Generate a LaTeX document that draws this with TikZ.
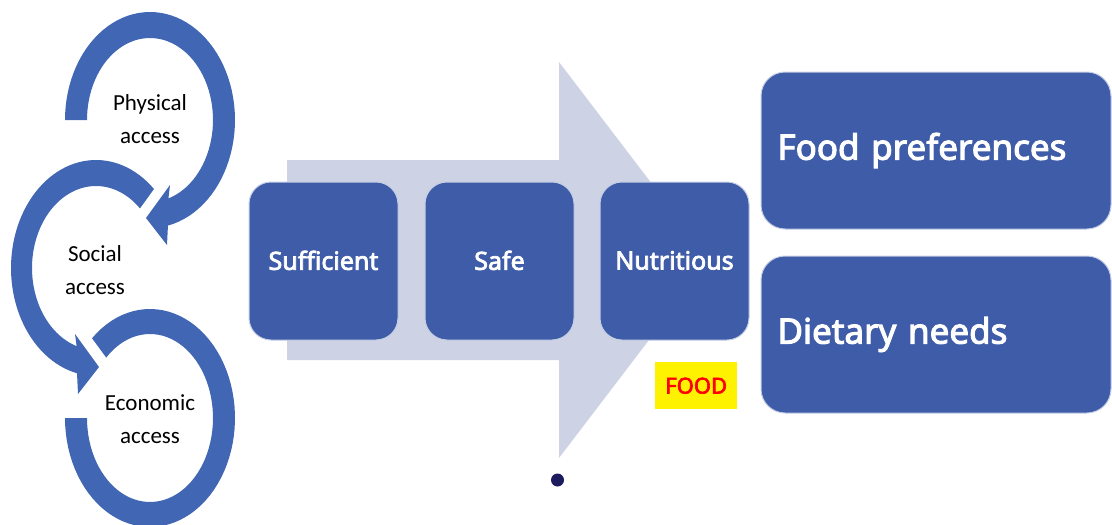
\documentclass[tikz,border=0pt]{standalone}
\usepackage{fontspec}
\setmainfont{Carlito}
\newfontfamily\boxfont{Noto Sans}[FakeBold=3]
\definecolor{ringblue}{HTML}{4066B4}
\definecolor{boxblue}{HTML}{3F5CA8}
\definecolor{arrowgrey}{HTML}{CDD2E4}
\definecolor{dotnavy}{HTML}{1E1A5E}
\tikzset{
  ring/.style={fill=ringblue,draw=none},
  ringlabel/.style={align=center,text=black,font=\fontsize{23}{33}\selectfont,inner sep=0pt},
  stage/.style={rounded corners=22pt,fill=boxblue,draw=white!70!boxblue,line width=1pt,text=white,anchor=north west,inner sep=0pt,minimum width=149pt,minimum height=158pt,font=\boxfont\fontsize{25}{30}\selectfont},
  widebox/.style={rounded corners=24pt,fill=boxblue,draw=white!70!boxblue,line width=1pt,text=white,anchor=north west,inner sep=0pt,minimum width=350pt,minimum height=157pt,font=\boxfont\fontsize{35}{42}\selectfont,text width=317pt,align=left},
  foodtag/.style={fill=yellow,text=red,anchor=north west,inner sep=0pt,minimum width=82pt,minimum height=47pt,font=\boxfont\fontsize{22}{28}\selectfont},
}
\begin{document}
\begin{tikzpicture}[x=1pt,y=-1pt]
\useasboundingbox (0,0) rectangle (1112,525);
% big arrow
\fill[arrowgrey] (287,160) -- (559,160) -- (559,62) -- (710,260) -- (559,458) -- (559,360) -- (287,360) -- cycle;
% physical ring
\fill[ring] plot[domain=180:437.8,samples=70] ({150+85*cos(\x)},{120+108*sin(\x)})
  -- (167,245) -- (146,218) -- (170,185) -- (168,202)
  -- plot[domain=433.4:180,samples=70] ({150+63*cos(\x)},{120+82*sin(\x)}) -- cycle;
% social ring
\fill[ring] plot[domain=313:102.9,samples=70] ({96+85*cos(\x)},{268+108*sin(\x)})
  -- (78,394) -- (99,367) -- (75,334) -- (77,349)
  -- plot[domain=107.3:313.4,samples=70] ({96+64*cos(\x)},{268+82*sin(\x)}) -- cycle;
% economic ring
\fill[ring] plot[domain=227:540,samples=80] ({150+85*cos(\x)},{418+109*sin(\x)})
  -- plot[domain=540:226,samples=80] ({150+63*cos(\x)},{418+84*sin(\x)}) -- cycle;
% labels
\node[ringlabel] (physical) at (150,119.5) {Physical\\access};
\node[ringlabel] (social) at (95,270.5) {Social\\access};
\node[ringlabel] (economic) at (150,419.5) {Economic\\access};
% boxes
\node[stage] (sufficient) at (248.5,181.5) {\raisebox{1.5pt}{Sufficient}};
\node[stage] (safe) at (424.5,181.5) {\raisebox{1.5pt}{Safe}};
\node[stage] (nutritious) at (599.5,181.5) {\raisebox{1.5pt}{Nutritious}};
\node[widebox] (prefs) at (760.5,71.5) {Food preferences};
\node[widebox] (needs) at (760.5,255.5) {Dietary needs};
\node[foodtag] (food) at (655,362) {FOOD};
\fill[dotnavy] (557.5,480) circle (6.5pt);
\end{tikzpicture}
\end{document}
